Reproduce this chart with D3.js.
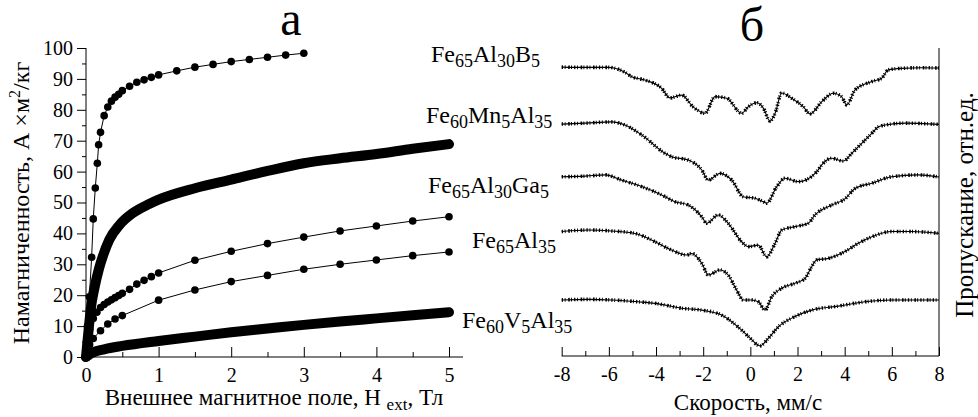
<!DOCTYPE html>
<html>
<head>
<meta charset="utf-8">
<script src="https://cdn.jsdelivr.net/npm/d3@7"></script>
<style>
  body { margin: 0; background: #fff; }
  svg, svg text { font-family: "Liberation Serif", "Times New Roman", Tinos, "Nimbus Roman", "DejaVu Serif", serif; }
</style>
</head>
<body>
<div id="chart"></div>
<script>
// panel a: magnetisation curves, H (T) vs M (A*m2/kg)
var b5H = [0, 0.02, 0.046, 0.078, 0.10, 0.128, 0.156, 0.174, 0.2, 0.25, 0.3, 0.35, 0.4, 0.45, 0.5, 0.6, 0.7, 0.8, 0.9, 1.0, 1.25, 1.5, 1.75, 2.0, 2.25, 2.5, 2.75, 3.0];
var b5M = [0, 10, 19.5, 32.3, 44.7, 54.7, 62.7, 68.7, 72.7, 78.1, 80.9, 82.8, 84.1, 85, 86.2, 87.6, 88.9, 89.7, 90.5, 91.3, 92.6, 93.8, 94.7, 95.6, 96.3, 97, 97.7, 98.3];
var mnH = [0, 0.02, 0.04, 0.07, 0.115, 0.18, 0.23, 0.32, 0.46, 0.64, 0.87, 1.0, 1.5, 2.0, 2.5, 3.0, 3.5, 4.0, 4.5, 5];
var mnM = [0, 5, 9.8, 16.3, 22.2, 28.7, 32.5, 37.9, 42.7, 46.5, 49.5, 50.9, 54.6, 57.4, 60.2, 62.7, 64.3, 65.7, 67.4, 68.9];
var gaH = [0, 0.02, 0.05, 0.1, 0.15, 0.2, 0.25, 0.3, 0.35, 0.4, 0.45, 0.5, 0.6, 0.7, 0.8, 0.9, 1.0, 1.5, 2, 2.5, 3, 3.5, 4, 4.5, 5];
var gaM = [0, 5, 9, 12.5, 14.5, 16, 17, 17.8, 18.5, 19.2, 19.9, 20.6, 21.9, 23.6, 24.8, 26, 27.2, 31.3, 34.2, 36.7, 38.8, 40.8, 42.4, 44, 45.4];
var alH = [0, 0.05, 0.1, 0.2, 0.3, 0.4, 0.5, 1, 1.5, 2, 2.5, 3, 3.5, 4, 4.5, 5];
var alM = [0, 4, 6, 8.5, 10.7, 12.3, 13.4, 18.4, 21.7, 24.4, 26.4, 28.4, 30, 31.4, 32.8, 34];
var vH = [0, 0.05, 0.1, 0.25, 0.5, 1, 1.5, 2, 2.5, 3, 3.5, 4, 4.5, 5];
var vM = [0, 0.9, 1.5, 2.5, 3.6, 5.2, 6.6, 8.0, 9.2, 10.4, 11.5, 12.5, 13.5, 14.5];

// panel b: Mossbauer spectra, velocity (mm/s) vs transmission (rel. units, stacked)
var b5V = [-8, -7, -6, -5.74, -5.34, -5.03, -4.47, -3.76, -3.41, -2.91, -2.43, -1.92, -1.5, -1.0, -0.37, -0.09, 0.27, 0.55, 0.83, 1.05, 1.33, 1.75, 2.25, 2.53, 3.03, 3.52, 3.87, 4.09, 4.44, 5.15, 5.57, 5.85, 6.42, 7.27, 8];
var b5T = [93.8, 93.7, 93.7, 93.4, 92.2, 90.7, 89.6, 86.9, 83.8, 84.7, 80.9, 78.8, 84.2, 83.7, 78.8, 80.9, 82.2, 80.5, 76.3, 78.8, 85.4, 83.7, 80.9, 78.6, 82.6, 85.3, 84.2, 81.5, 86.4, 89.1, 90.2, 92.9, 93.4, 93.6, 93.5];
var mnV = [-8, -7, -5.88, -5.32, -4.61, -3.62, -3.34, -2.63, -2.06, -1.78, -1.29, -0.79, -0.30, 0.2, 0.55, 0.69, 1.12, 1.47, 2.03, 2.81, 3.09, 3.45, 3.94, 4.30, 4.65, 5.15, 5.43, 5.71, 6.56, 8];
var mnT = [75.3, 75.6, 76.0, 75.0, 71.8, 65.8, 64.7, 63.6, 60.4, 57.1, 59.3, 57.1, 51.7, 51.2, 50.1, 49.6, 55.0, 57.7, 56.6, 59.8, 62.6, 64.2, 63.3, 65.8, 68.5, 72.3, 74.4, 75.0, 75.6, 75.2];
var gaV = [-8, -7, -6.16, -5.46, -4.61, -3.76, -3.2, -2.63, -2.06, -1.85, -1.36, -0.94, -0.37, -0.09, 0.34, 0.69, 1.05, 1.33, 1.89, 2.46, 2.74, 3.45, 4.01, 4.44, 5.15, 5.99, 7.12, 8];
var gaT = [58.2, 58.4, 58.8, 57.1, 55.0, 52.3, 50.1, 49.0, 45.2, 43.1, 45.8, 43.1, 37.1, 35.5, 36.0, 32.2, 36.6, 40.9, 42.0, 43.1, 45.8, 49.0, 51.0, 54.4, 56.1, 58.2, 58.8, 58.1];
var alV = [-8, -6.87, -5.9, -4.89, -4.04, -3.34, -2.7, -2.49, -2.06, -1.78, -1.29, -0.94, -0.58, -0.30, 0.03, 0.34, 0.62, 0.91, 1.33, 1.89, 2.32, 2.6, 2.81, 3.31, 4.01, 4.58, 5.15, 5.99, 6.84, 8];
var alT = [40.4, 40.9, 40.6, 39.8, 37.1, 34.4, 32.8, 33.3, 30.1, 26.3, 27.9, 26.3, 21.4, 18.2, 18.2, 17.6, 14.9, 19.3, 22.0, 23.6, 25.2, 29.0, 31.2, 31.7, 33.9, 36.6, 38.7, 40.4, 40.4, 39.8];
var vV = [-8, -6.87, -5.9, -4.75, -4.04, -2.91, -2.06, -1.22, -0.37, -0.01, 0.41, 0.76, 1.19, 1.89, 2.6, 3.73, 4.86, 5.99, 8];
var vT = [18.2, 18.4, 18.2, 17.6, 17.1, 15.5, 14.9, 13.3, 8.4, 5.8, 3.3, 5.7, 9.5, 12.8, 14.9, 16.2, 17.6, 18.2, 18.2];

var zip = function(xs, ys){ return xs.map(function(d, i){ return [d, ys[i]]; }); };
var serif = '"Liberation Serif", "Times New Roman", Tinos, "Nimbus Roman", "DejaVu Serif", serif';

var width = 978, height = 417;
var svg = d3.select("#chart").append("svg")
    .attr("width", width)
    .attr("height", height)
    .attr("font-family", serif);

// ---------- panel a ----------
var x = d3.scaleLinear().domain([0, 5]).range([86, 449]);
var y = d3.scaleLinear().domain([0, 100]).range([357, 48]);

// axes
svg.append("line").attr("x1", x(0)).attr("x2", 463).attr("y1", y(0)).attr("y2", y(0)).attr("stroke", "#000");
svg.append("line").attr("x1", x(0)).attr("x2", x(0)).attr("y1", y(0)).attr("y2", y(100)).attr("stroke", "#000");

svg.append("g").attr("transform", "translate(0," + y(0) + ")")
    .call(d3.axisBottom(x).tickValues(d3.range(0, 6)).tickSize(-10).tickPadding(11).tickFormat(d3.format("d")));
svg.append("g").attr("transform", "translate(0," + y(0) + ")")
    .call(d3.axisBottom(x).tickValues([0.5, 1.5, 2.5, 3.5, 4.5]).tickSize(-5).tickFormat(""));
svg.append("g").attr("transform", "translate(" + x(0) + ",0)")
    .call(d3.axisLeft(y).tickValues(d3.range(0, 101, 10)).tickSize(9).tickPadding(4));
svg.append("g").attr("transform", "translate(" + x(0) + ",0)")
    .call(d3.axisLeft(y).tickValues(d3.range(5, 100, 10)).tickSize(4).tickFormat(""));

// thick curves (dense markers)
var line = d3.line().x(function(d){ return x(d[0]); }).y(function(d){ return y(d[1]); });
[[mnH, mnM], [vH, vM]].forEach(function(s){
    svg.append("path")
        .attr("d", line.curve(d3.curveMonotoneX)(zip(s[0], s[1])))
        .attr("fill", "none").attr("stroke", "#000")
        .attr("stroke-width", 10).attr("stroke-linecap", "round").attr("stroke-linejoin", "round");
});

// dotted curves with circle markers
[[b5H, b5M], [gaH, gaM], [alH, alM]].forEach(function(s){
    var pts = zip(s[0], s[1]);
    svg.append("path")
        .attr("d", line.curve(d3.curveLinear)(pts))
        .attr("fill", "none").attr("stroke", "#000").attr("stroke-width", 1);
    svg.append("g").selectAll("circle").data(pts).enter().append("circle")
        .attr("cx", function(d){ return x(d[0]); })
        .attr("cy", function(d){ return y(d[1]); })
        .attr("r", 3.8).attr("fill", "#000");
});

// titles panel a
svg.append("text").attr("x", 291).attr("y", 35).attr("text-anchor", "middle")
    .attr("font-size", 48).text("а");
svg.append("text").attr("transform", "translate(29,203) rotate(-90)").attr("text-anchor", "middle")
    .attr("font-size", 24)
    .call(function(t){
        t.append("tspan").text("Намагниченность, А ×м");
        t.append("tspan").attr("font-size", 16).attr("dy", -9).text("2");
        t.append("tspan").attr("dy", 9).text("/кг");
    });
svg.append("text").attr("x", 274).attr("y", 405).attr("text-anchor", "middle")
    .attr("font-size", 23)
    .call(function(t){
        t.append("tspan").text("Внешнее магнитное поле, H ");
        t.append("tspan").attr("font-size", 17).attr("dy", 5).text("ext");
        t.append("tspan").attr("dy", -5).text(", Тл");
    });

// compound labels: [text, subscript] pieces
var labels = [
    {x: 431, y: 62, parts: [["Fe", "65"], ["Al", "30"], ["B", "5"]]},
    {x: 426, y: 123, parts: [["Fe", "60"], ["Mn", "5"], ["Al", "35"]]},
    {x: 428, y: 193, parts: [["Fe", "65"], ["Al", "30"], ["Ga", "5"]]},
    {x: 472, y: 248, parts: [["Fe", "65"], ["Al", "35"]]},
    {x: 462, y: 328, parts: [["Fe", "60"], ["V", "5"], ["Al", "35"]]}
];
labels.forEach(function(l){
    var t = svg.append("text").attr("x", l.x).attr("y", l.y).attr("font-size", 24);
    l.parts.forEach(function(p, i){
        t.append("tspan").attr("dy", i == 0 ? 0 : -5).text(p[0]);
        t.append("tspan").attr("font-size", 18).attr("dy", 5).text(p[1]);
    });
});

// ---------- panel b ----------
var xv = d3.scaleLinear().domain([-8, 8]).range([561.7, 939]);
var yv = d3.scaleLinear().domain([0, 100]).range([356, 48]);

svg.append("line").attr("x1", xv(-8)).attr("x2", xv(8)).attr("y1", yv(0)).attr("y2", yv(0)).attr("stroke", "#000");
svg.append("line").attr("x1", xv(8)).attr("x2", xv(8)).attr("y1", yv(0)).attr("y2", yv(100)).attr("stroke", "#000");

svg.append("g").attr("transform", "translate(0," + yv(0) + ")")
    .call(d3.axisBottom(xv).tickValues(d3.range(-8, 9, 2)).tickSize(-9).tickPadding(11)
        .tickFormat(function(d){ return String(d); }));
svg.append("g").attr("transform", "translate(0," + yv(0) + ")")
    .call(d3.axisBottom(xv).tickValues(d3.range(-7, 8, 2)).tickSize(-5).tickFormat(""));

// axis styling: no domain path, serif labels
svg.selectAll(".domain").remove();
svg.selectAll(".tick").select("line").attr("stroke", "#000");
svg.selectAll("g").filter(function(){ return this.hasAttribute("font-family"); })
    .attr("font-family", serif);
svg.selectAll(".tick text").attr("font-size", 20).attr("fill", "#000");

var vline = d3.line().x(function(d){ return xv(d[0]); }).y(function(d){ return yv(d[1]); })
    .curve(d3.curveMonotoneX);
[[b5V, b5T], [mnV, mnT], [gaV, gaT], [alV, alT], [vV, vT]].forEach(function(s){
    var dd = vline(zip(s[0], s[1]));
    // experimental points around the fit: wide irregular dotted stroke
    svg.append("path").attr("d", dd).attr("fill", "none").attr("stroke", "#000")
        .attr("stroke-width", 3.6).attr("stroke-dasharray", "1.3 1.7 0.9 2.6 1.6 1.2 1.0 2.1");
    // fitted curve
    svg.append("path").attr("d", dd).attr("fill", "none").attr("stroke", "#000")
        .attr("stroke-width", 1.1);
});

svg.append("text").attr("x", 752).attr("y", 41).attr("text-anchor", "middle")
    .attr("font-size", 48).text("б");
svg.append("text").attr("x", 748).attr("y", 410).attr("text-anchor", "middle")
    .attr("font-size", 23).text("Скорость, мм/с");
svg.append("text").attr("transform", "translate(973,205) rotate(-90)").attr("text-anchor", "middle")
    .attr("font-size", 25).text("Пропускание, отн.ед.");
</script>
</body>
</html>
